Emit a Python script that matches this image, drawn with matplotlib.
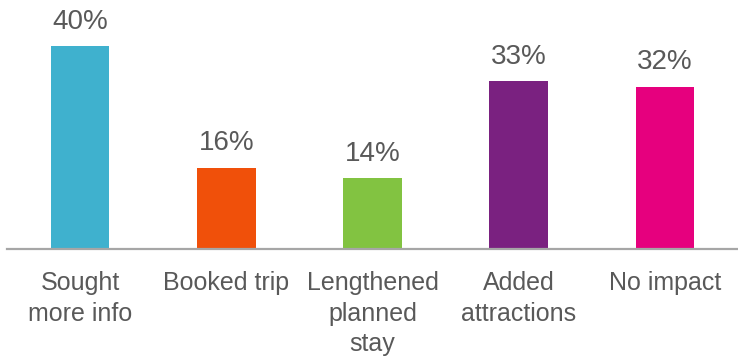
import matplotlib.pyplot as plt
import numpy as np

plt.rcParams['font.family'] = ['Liberation Sans', 'DejaVu Sans']

categories = ["Sought\nmore info", "Booked trip", "Lengthened\nplanned\nstay",
              "Added\nattractions", "No impact"]
values = [40, 16, 14, 33, 32]
colors = ["#3FB1CE", "#F0500A", "#82C341", "#7A2180", "#E6007E"]

text_color = "#595959"

fig = plt.figure(figsize=(7.38, 3.61), dpi=100)
ax = fig.add_axes([7 / 738, 112.5 / 361, 1 - 7 / 738, 248.5 / 361])

x = np.arange(len(values))
bars = ax.bar(x, values, width=0.40, color=colors)

# percentage labels sit a fixed distance above each bar
for xi, v in zip(x, values):
    ax.annotate(f"{v}%", (xi, v), xytext=(0, 12.3), textcoords="offset points",
                ha="center", va="baseline", fontsize=20, color=text_color)

ax.set_xlim(-0.5, 4.5)
ax.set_ylim(0, 49.1)
ax.set_xticks(x)
ax.set_xticklabels(categories, fontsize=18, color=text_color, linespacing=1.36)
ax.tick_params(axis="x", length=0, pad=16)
ax.set_yticks([])

for side in ["top", "right", "left"]:
    ax.spines[side].set_visible(False)
ax.spines["bottom"].set_color("#A6A6A6")
ax.spines["bottom"].set_linewidth(1.6)

fig.savefig("out.png", dpi=100)
